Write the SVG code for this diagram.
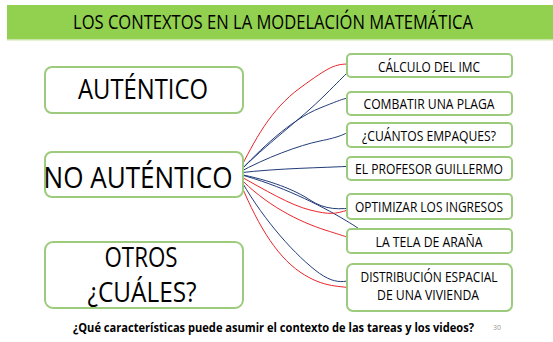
<svg xmlns="http://www.w3.org/2000/svg" width="553" height="342" viewBox="0 0 553 342">
<style>
.box{fill:#fff;stroke:#9DCB7E;stroke-width:2}
.t{font-family:"Open Sans","Liberation Sans",sans-serif;fill:#000;text-anchor:middle}
.r{fill:none;stroke:#E8262B;stroke-width:1}
.b{fill:none;stroke:#223C7A;stroke-width:1}
</style>
<rect width="553" height="342" fill="#fff"/>
<g id="title">
<rect x="7" y="5" width="546" height="34" fill="#92D050"/>
<rect x="7" y="39" width="546" height="1.5" fill="#C9E6A8"/>
<text class="t" x="273" y="29" font-size="20" textLength="400" lengthAdjust="spacingAndGlyphs">LOS CONTEXTOS EN LA MODELACIÓN MATEMÁTICA</text>
</g>
<g id="connectors">
<path class="r" d="M238,173 C255,140 270,110 300,88 S335,64 350,64"/>
<path class="b" d="M238,173 C265,145 300,120 325,95 S350,70 357,63"/>
<path class="b" d="M238,173 C260,150 290,120 320,108 S345,98 356,99"/>
<path class="b" d="M238,173 C265,158 300,145 320,141 S345,134 352,130"/>
<path class="b" d="M238,173 C280,168 320,168 355,166"/>
<path class="b" d="M238,174 C270,180 295,190 310,200 S340,210 357,207"/>
<path class="b" d="M238,174 C280,185 320,205 345,220 S362,232 367,241"/>
<path class="r" d="M238,175 C265,190 290,205 310,210 S335,214 348,210"/>
<path class="r" d="M238,176 C265,205 300,222 325,230 S345,236 350,239"/>
<path class="b" d="M238,175 C260,215 290,250 315,270 S350,278 362,278"/>
<path class="r" d="M238,177 C255,220 275,255 300,272 S340,285 356,289"/>
</g>
<g id="autentico">
<rect class="box" x="45" y="67" width="198" height="46" rx="7"/>
<text class="t" x="143" y="99" font-size="27" textLength="130" lengthAdjust="spacingAndGlyphs">AUTÉNTICO</text>
</g>
<g id="no-autentico">
<rect class="box" x="45" y="152" width="198" height="45" rx="7"/>
<text class="t" x="138" y="188" font-size="29" textLength="189" lengthAdjust="spacingAndGlyphs">NO AUTÉNTICO</text>
</g>
<g id="otros">
<rect class="box" x="45" y="242" width="198" height="66" rx="8"/>
<text class="t" x="141" y="267" font-size="27" textLength="73" lengthAdjust="spacingAndGlyphs">OTROS</text>
<text class="t" x="142" y="302" font-size="27" textLength="109" lengthAdjust="spacingAndGlyphs">¿CUÁLES?</text>
</g>
<g id="calculo">
<rect class="box" x="347" y="54" width="165" height="23" rx="4"/>
<text class="t" x="429" y="72" font-size="14" textLength="102" lengthAdjust="spacingAndGlyphs">CÁLCULO DEL IMC</text>
</g>
<g id="combatir">
<rect class="box" x="347" y="92" width="165" height="23" rx="4"/>
<text class="t" x="429" y="109" font-size="14" textLength="131" lengthAdjust="spacingAndGlyphs">COMBATIR UNA PLAGA</text>
</g>
<g id="cuantos">
<rect class="box" x="347" y="123" width="165" height="24" rx="4"/>
<text class="t" x="429" y="141" font-size="14" textLength="134" lengthAdjust="spacingAndGlyphs">¿CUÁNTOS EMPAQUES?</text>
</g>
<g id="profesor">
<rect class="box" x="347" y="157" width="165" height="23" rx="4"/>
<text class="t" x="429" y="174" font-size="14" textLength="148" lengthAdjust="spacingAndGlyphs">EL PROFESOR GUILLERMO</text>
</g>
<g id="optimizar">
<rect class="box" x="347" y="194" width="165" height="25" rx="4"/>
<text class="t" x="429" y="212" font-size="14" textLength="148" lengthAdjust="spacingAndGlyphs">OPTIMIZAR LOS INGRESOS</text>
</g>
<g id="tela">
<rect class="box" x="347" y="229" width="165" height="24" rx="4"/>
<text class="t" x="429" y="247" font-size="14" textLength="107" lengthAdjust="spacingAndGlyphs">LA TELA DE ARAÑA</text>
</g>
<g id="distribucion">
<rect class="box" x="347" y="264" width="165" height="47" rx="6"/>
<text class="t" x="429" y="282" font-size="14" textLength="137" lengthAdjust="spacingAndGlyphs">DISTRIBUCIÓN ESPACIAL</text>
<text class="t" x="428" y="300" font-size="14" textLength="102" lengthAdjust="spacingAndGlyphs">DE UNA VIVIENDA</text>
</g>
<g id="footer">
<text class="t" x="273.5" y="332" font-size="13" font-weight="bold" textLength="401" lengthAdjust="spacingAndGlyphs">¿Qué características puede asumir el contexto de las tareas y los videos?</text>
<text class="t" x="497" y="330" font-size="7" fill="#999" style="fill:#999">30</text>
</g>
</svg>
